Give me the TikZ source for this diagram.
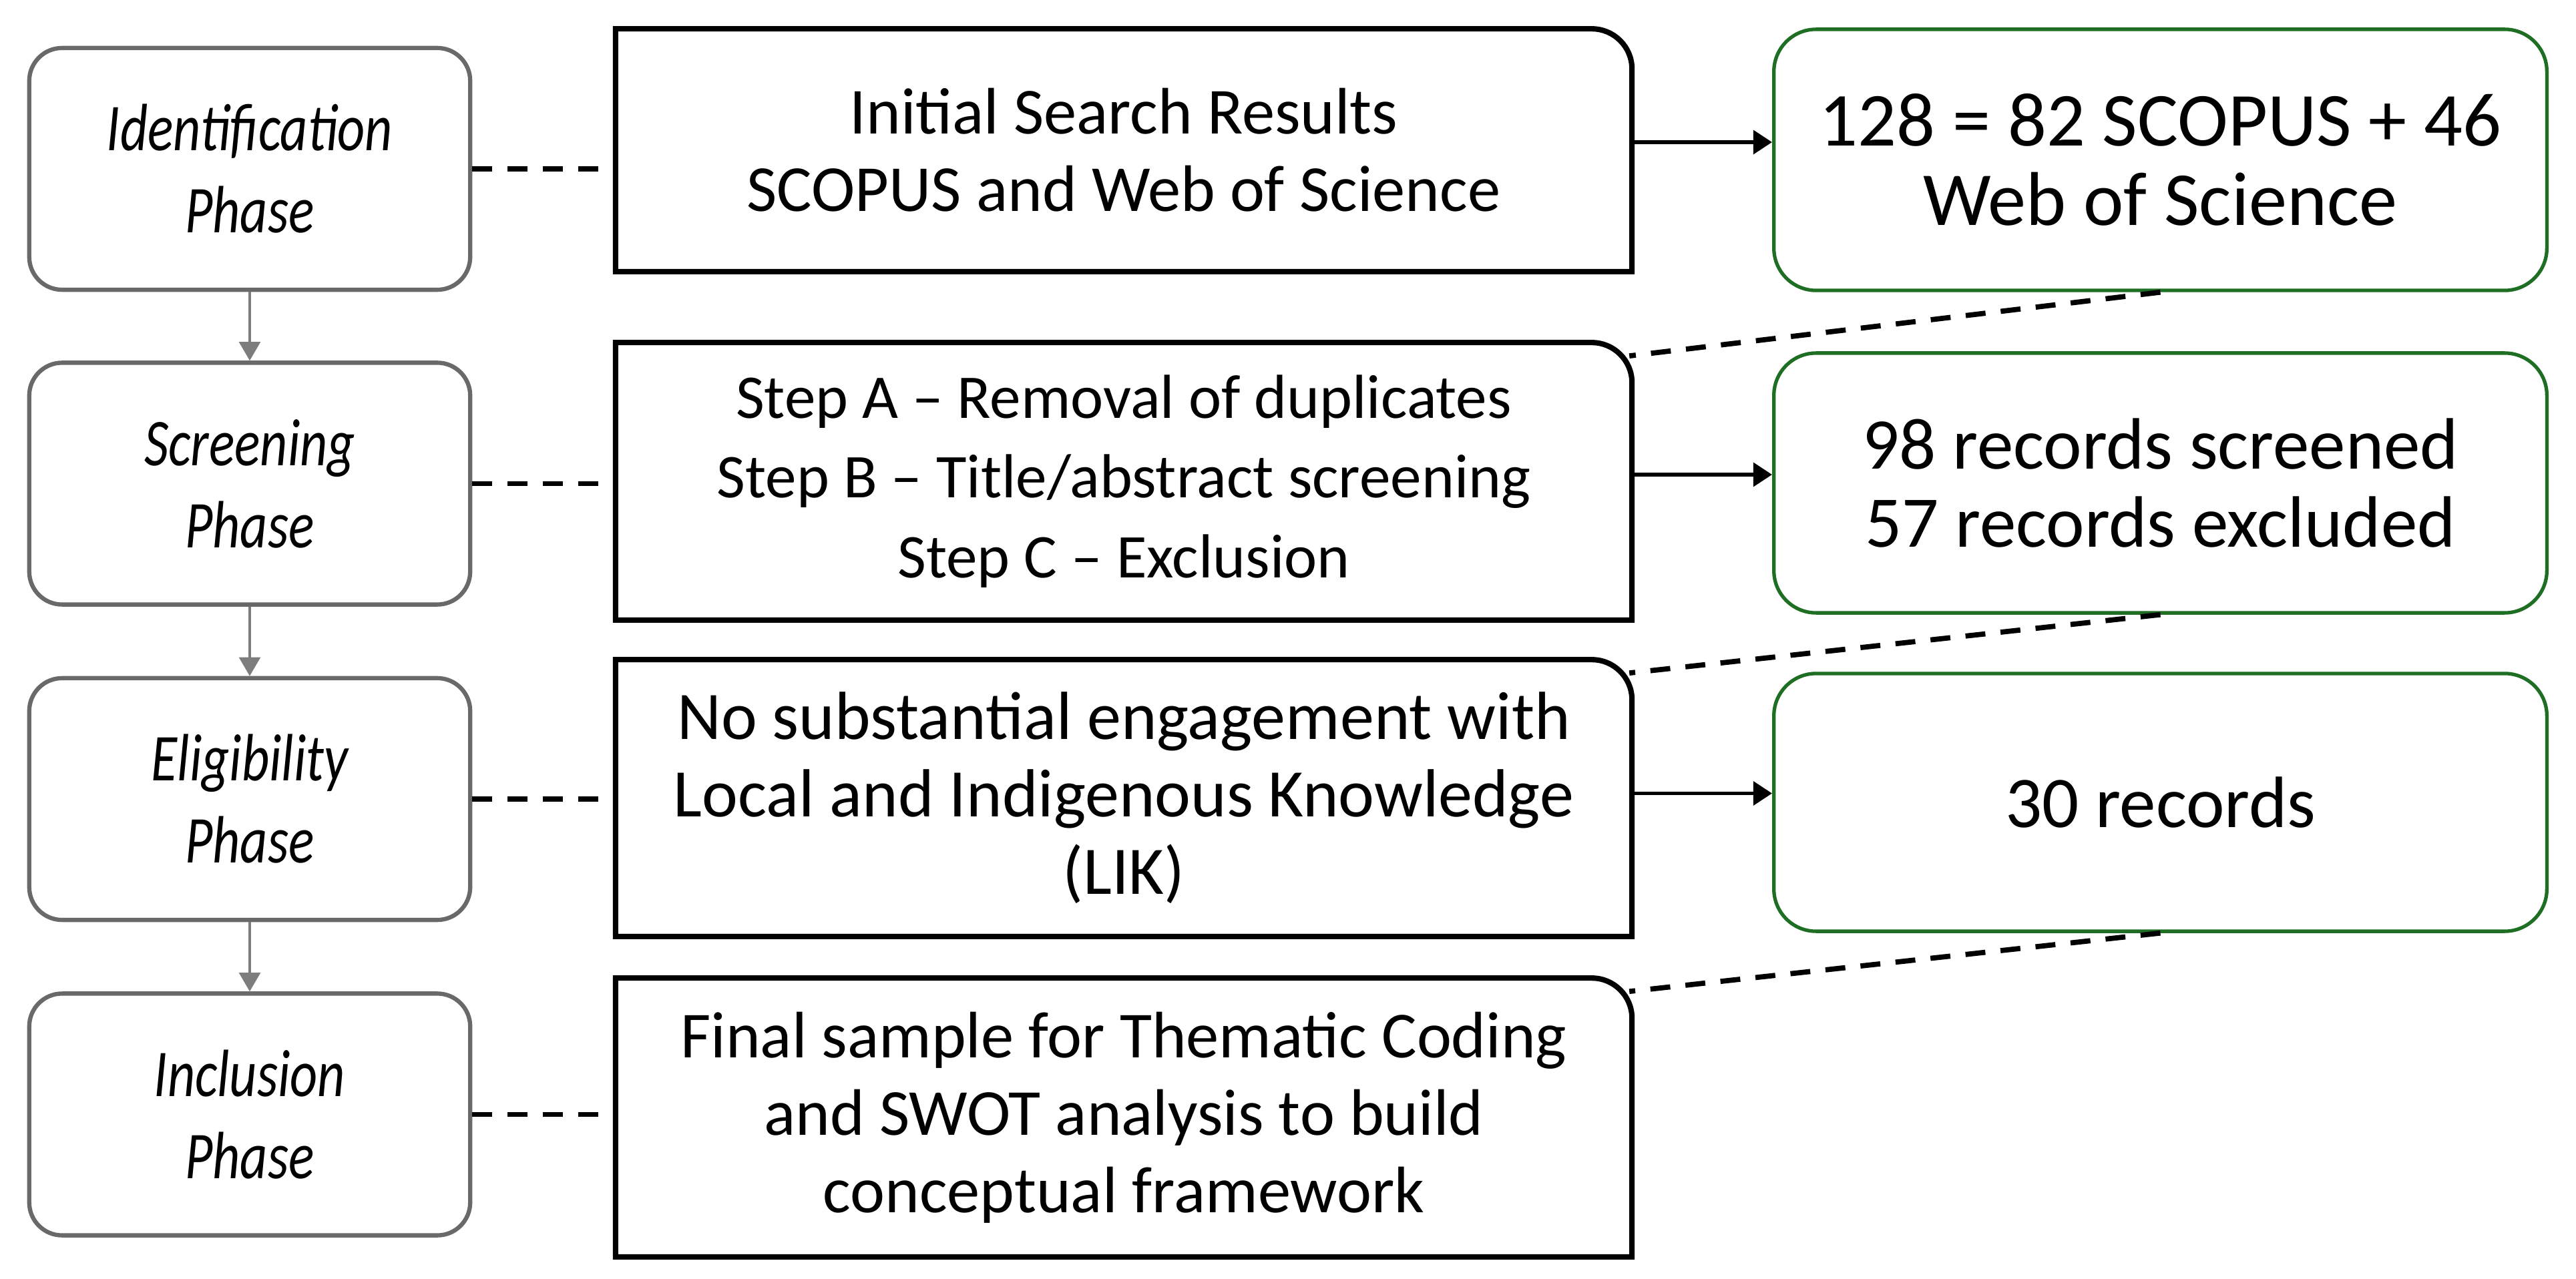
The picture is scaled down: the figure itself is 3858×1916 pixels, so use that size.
\documentclass[tikz,border=0pt]{standalone}
\usepackage{fontspec}
\setmainfont{Carlito}
\newfontfamily\phasefont[FakeStretch=0.8]{Carlito}
\usetikzlibrary{arrows.meta,calc}
\definecolor{phasegray}{RGB}{105,105,105}
\definecolor{arrgray}{RGB}{125,125,125}
\definecolor{resgreen}{RGB}{30,110,35}
\tikzset{
  phasebox/.style={draw=phasegray, line width=1.8pt, rounded corners=14pt,
    minimum width=6.6cm, minimum height=3.62cm, align=center,
    font=\phasefont\itshape\fontsize{28.5}{35}\selectfont, inner sep=0pt},
  midbox/.style={draw=none, minimum width=15.2cm, align=center,
    font=\fontsize{28}{33}\selectfont, inner sep=0pt},
  midline/.style={draw=black, line width=2.3pt},
  resbox/.style={draw=resgreen, line width=1.5pt, rounded corners=18pt,
    minimum width=11.57cm, align=center,
    font=\fontsize{31}{33.5}\selectfont, inner sep=0pt},
  grayarr/.style={draw=arrgray, line width=1.1pt, -{Triangle[length=8pt,width=9pt]}},
  blkarr/.style={draw=black, line width=1.7pt, -{Triangle[length=8pt,width=10pt]}},
  dashlink/.style={draw=black, line width=2.2pt, dash pattern=on 8.5pt off 6.5pt},
}
\newcommand{\midframe}[1]{%
  \draw[midline] (#1.south west) -- (#1.north west) -- ($(#1.north east)+(-60,0)$)
    .. controls ($(#1.north east)+(-27,0)$) and ($(#1.north east)+(0,27)$) ..
    ($(#1.north east)+(0,60)$) -- (#1.south east) -- cycle;}
\begin{document}
\begin{tikzpicture}[x=0.01cm,y=-0.01cm]
\useasboundingbox[fill=white] (0,0) rectangle (3858,1916);

% phase boxes
\node[phasebox] (p1) at (374,253) {Identification\\Phase};
\node[phasebox] (p2) at (374,724.5) {Screening\\Phase};
\node[phasebox] (p3) at (374,1197) {Eligibility\\Phase};
\node[phasebox] (p4) at (374,1669.5) {Inclusion\\Phase};

% middle boxes
\node[midbox, minimum height=3.62cm] (m1) at (1683,225) {Initial Search Results\\SCOPUS and Web of Science};
\node[midbox, minimum height=4.14cm, font=\fontsize{26.5}{34}\selectfont] (m2) at (1683,721)
  {Step A \textendash{} Removal of duplicates\\Step B \textendash{} Title/abstract screening\\Step C \textendash{} Exclusion};
\node[midbox, minimum height=4.13cm, font=\fontsize{29}{33}\selectfont] (m3) at (1683,1195.5) {No substantial engagement with\\Local and Indigenous Knowledge\\(LIK)};
\node[midbox, minimum height=4.16cm] (m4) at (1683,1674) {Final sample for Thematic Coding\\and SWOT analysis to build\\conceptual framework};
\midframe{m1}
\midframe{m2}
\midframe{m3}
\midframe{m4}

% result boxes
\node[resbox, minimum height=3.91cm, font=\fontsize{32.5}{34}\selectfont] (g1) at (3235.5,239.5) {128 = 82 SCOPUS + 46\\Web of Science};
\node[resbox, minimum height=3.89cm] (g2) at (3235.5,723.5) {98 records screened\\57 records excluded};
\node[resbox, minimum height=3.86cm] (g3) at (3235.5,1202) {30 records};

% gray flow arrows
\draw[grayarr] (p1.south) -- (p2.north);
\draw[grayarr] (p2.south) -- (p3.north);
\draw[grayarr] (p3.south) -- (p4.north);

% dashed phase links
\draw[dashlink] (p1.east) -- (p1.east -| m1.west);
\draw[dashlink] (p2.east) -- (p2.east -| m2.west);
\draw[dashlink] (p3.east) -- (p3.east -| m3.west);
\draw[dashlink] (p4.east) -- (p4.east -| m4.west);

% arrows to results
\coordinate (a1) at ($(m1.east)+(0,-12)$);
\coordinate (a2) at ($(m2.east)+(0,-10)$);
\coordinate (a3) at ($(m3.east)+(0,-7)$);
\draw[blkarr] (a1) -- (a1 -| g1.west);
\draw[blkarr] (a2) -- (a2 -| g2.west);
\draw[blkarr] (a3) -- (a3 -| g3.west);

% dashed diagonals
\coordinate (c2) at ($(m2.north east)+(-4,20)$);
\coordinate (c3) at ($(m3.north east)+(-4,20)$);
\coordinate (c4) at ($(m4.north east)+(-4,20)$);
\draw[dashlink] (g1.south) -- (c2);
\draw[dashlink] (g2.south) -- (c3);
\draw[dashlink] (g3.south) -- (c4);
\end{tikzpicture}
\end{document}
